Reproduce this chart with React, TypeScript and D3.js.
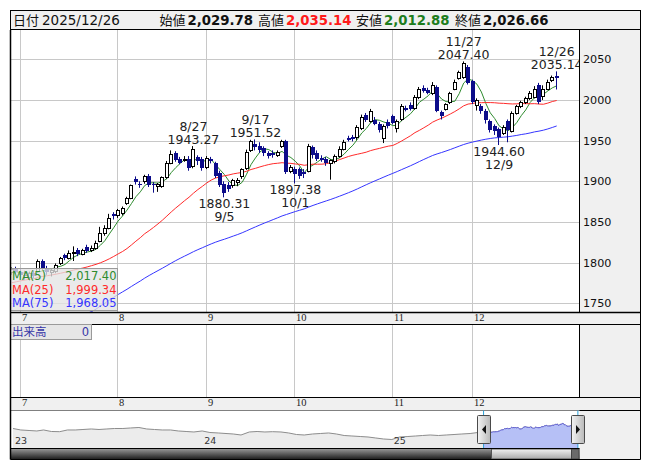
import React from "react";
import * as d3 from "d3";

// ---------- DATA ----------
const tradingDays: [string, number[]][] = [
  ["2025-06", [27, 30]],
  ["2025-07", [1, 2, 3, 4, 7, 8, 9, 10, 11, 14, 15, 16, 17, 18, 22, 23, 24, 25, 28, 29, 30, 31]],
  ["2025-08", [1, 4, 5, 6, 7, 8, 12, 13, 14, 15, 18, 19, 20, 21, 22, 25, 26, 27, 28, 29]],
  ["2025-09", [1, 2, 3, 4, 5, 8, 9, 10, 11, 12, 16, 17, 18, 19, 22, 24, 25, 26, 29, 30]],
  ["2025-10", [1, 2, 3, 6, 7, 8, 9, 10, 14, 15, 16, 17, 20, 21, 22, 23, 24, 27, 28, 29, 30, 31]],
  ["2025-11", [4, 5, 6, 7, 10, 11, 12, 13, 14, 17, 18, 19, 20, 21, 25, 26, 27, 28]],
  ["2025-12", [1, 2, 3, 4, 5, 8, 9, 10, 11, 12, 15, 16, 17, 18, 19, 22, 23, 24, 25, 26]],
];

const opens = [
  1788, 1792,
  1789, 1785, 1782, 1787, 1790, 1802, 1793, 1789, 1790, 1799, 1809, 1806, 1812, 1816, 1811, 1819, 1815, 1818, 1827, 1836, 1843, 1860,
  1858, 1861, 1873, 1880, 1903, 1897, 1900, 1907, 1897, 1894, 1894, 1905, 1923, 1935, 1927, 1926, 1928, 1919, 1930, 1927,
  1917, 1928, 1922, 1910, 1897, 1895, 1895, 1899, 1906, 1916, 1938, 1946, 1944, 1941, 1935, 1935, 1932, 1944, 1949, 1913,
  1915, 1915, 1912, 1913, 1942, 1935, 1929, 1927, 1923, 1925, 1931, 1940, 1953, 1954, 1954, 1965, 1982, 1974, 1975, 1971, 1953, 1973,
  1980, 1965, 1976, 1990, 1994, 1990, 2004, 2015, 2012, 2008, 2016, 1985, 1989, 1997, 2014, 2027, 2028, 2040,
  2023, 1994, 1993, 1987, 1974, 1968, 1964, 1960, 1974, 1962, 1984, 1992, 1997, 2002, 2004, 2018, 2005, 2014, 2024, 2029.78,
];
const highs = [
  1794, 1795,
  1792, 1790, 1789, 1790, 1804, 1804, 1796, 1793, 1799, 1807, 1811, 1815, 1820, 1818, 1817, 1822, 1821, 1827, 1844, 1846, 1860, 1862,
  1866, 1869, 1881, 1896, 1906, 1900, 1908, 1909, 1899, 1898, 1906, 1925, 1938, 1937, 1930, 1931, 1931, 1943.27, 1932, 1930,
  1931, 1930, 1924, 1913, 1900, 1899, 1903, 1904, 1916, 1939, 1951, 1951.52, 1948, 1943, 1937, 1938, 1938, 1951, 1951, 1920,
  1918, 1917, 1915, 1946, 1944, 1938, 1932, 1930, 1927, 1933, 1943, 1951, 1956, 1957, 1969, 1982, 1984, 1989, 1979, 1973, 1970, 1976,
  1982, 1976, 1995, 1993, 1997, 2006, 2016, 2018, 2015, 2022, 2018, 1987, 1996, 2010, 2025, 2036, 2047.4, 2043,
  2025, 2002, 1995, 1989, 1976, 1970, 1966, 1969, 1976, 1986, 1994, 1999, 2004, 2011, 2017, 2021, 2018, 2025, 2030, 2035.14,
];
const lows = [
  1785, 1786,
  1781, 1779, 1778, 1781, 1788, 1791, 1785, 1783, 1787, 1797, 1803, 1804, 1802, 1808, 1809, 1812, 1813, 1816, 1825, 1833, 1841, 1853,
  1855, 1858, 1871, 1878, 1896, 1892, 1897, 1893, 1886, 1887, 1892, 1903, 1921, 1924, 1921, 1924, 1913, 1916, 1920, 1913,
  1915, 1922, 1904, 1893, 1880.31, 1887, 1892, 1894, 1903, 1914, 1936, 1938, 1935, 1931, 1928, 1929, 1930, 1941, 1909, 1910,
  1897.38, 1903, 1904, 1911, 1928, 1925, 1924, 1919, 1902, 1922, 1929, 1938, 1949, 1949, 1951, 1963, 1973, 1972, 1969, 1960, 1947, 1965,
  1970, 1960, 1974, 1986, 1987, 1988, 2001, 2009, 2007, 2006, 1985, 1976, 1987, 1995, 2012, 2025, 2026, 2019,
  1995, 1987, 1983, 1971, 1960, 1957, 1944.6, 1957, 1948, 1960, 1982, 1990, 1995, 2000, 2002, 1995, 2000, 2012, 2022, 2012.88,
];
const closes = [
  1792, 1789,
  1785, 1783, 1787, 1784, 1802, 1794, 1789, 1791, 1797, 1806, 1806, 1812, 1813, 1811, 1815, 1814, 1818, 1824, 1836, 1843, 1855, 1857,
  1865, 1867, 1879, 1895, 1899, 1895, 1906, 1895, 1896, 1897, 1905, 1923, 1933, 1926, 1923, 1928, 1916, 1940, 1925, 1916,
  1929, 1925, 1906, 1895, 1886, 1890, 1901, 1902, 1915, 1936, 1949, 1942, 1938, 1935, 1931, 1932, 1936, 1950, 1911, 1917,
  1909, 1907, 1909, 1943, 1932, 1928, 1926, 1922, 1926, 1931, 1940, 1948, 1951, 1952, 1967, 1979, 1975, 1987, 1971, 1963, 1968, 1968,
  1972, 1974, 1992, 1988, 1989, 2004, 2013, 2011, 2009, 2019, 1987, 1980, 1995, 2008, 2022, 2034, 2045, 2021,
  1997, 2000, 1986, 1975, 1963, 1962, 1955, 1967, 1963, 1984, 1992.5, 1997, 2002, 2009, 2014, 1997, 2013, 2022.35, 2028, 2026.66,
];
// closes before 2025-06-27 (used only for the moving averages)
const priorCloses = [
  1755, 1760, 1768, 1772, 1770, 1765, 1762, 1758, 1750, 1745, 1738, 1720, 1715,
  1705, 1700, 1650, 1600, 1545, 1590, 1560, 1600, 1610,
  1625, 1640, 1632, 1645, 1650, 1638, 1652, 1668, 1675, 1682, 1690, 1695,
  1700, 1712, 1722, 1718, 1730, 1738, 1742, 1748, 1752, 1745, 1750, 1756, 1748, 1752, 1760, 1755, 1758, 1762, 1766,
  1760, 1765, 1770, 1768, 1772, 1778, 1775, 1780, 1776, 1782, 1785, 1780, 1778, 1784, 1788, 1786, 1790, 1784, 1787,
];
const maPeriods = [5, 25, 75];
const yTicks = [1750, 1800, 1850, 1900, 1950, 2000, 2050];
const highMarks = ["2025-08-27", "2025-09-17", "2025-11-27", "2025-12-26"];
const lowMarks = ["2025-09-05", "2025-10-01", "2025-12-09"];
// navigator: half-monthly values 2023-01 .. 2025-06
const navValues = [
  1902, 1862, 1848, 1835, 1862, 1821, 1816, 1862, 1862, 1875, 1889, 1875, 1889, 1902, 1902, 1916, 1929, 1889, 1875, 1862, 1862, 1835, 1821, 1808,
  1835, 1794, 1781, 1767, 1754, 1727, 1808, 1821, 1808, 1816, 1808, 1781, 1740, 1727, 1754, 1767, 1781, 1754, 1713, 1700, 1686, 1673, 1646, 1619,
  1605, 1673, 1686, 1700, 1713, 1727, 1713, 1727, 1740, 1754, 1767, 1794,
];
const navYears = ["23", "24", "25"];

// ---------- LAYOUT ----------
const W = 653, H = 470;
const FL = 10.5, FR = 640.5, PR = 579.5;
const mainTop = 30, mainBot = 312.5, ax1Bot = 324.5, volBot = 397.5, ax2Bot = 410.5, navBot = 448.5, frameBot = 459.5;
const SANS = "'DejaVu Sans', 'Noto Sans CJK JP', sans-serif";
const CJK = "'Noto Sans CJK JP', sans-serif";
const SERIF = "'Liberation Serif', serif";
const UP = "#000000", DOWN = "#0c0c8a";
const maColors = ["#2e8b2e", "#ff2a2a", "#3535ff"];

export default function App() {
  const dates = tradingDays.flatMap(([ym, days]) =>
    days.map((d) => new Date(`${ym}-${String(d).padStart(2, "0")}T00:00:00`))
  );
  const n = dates.length;
  const key = (d: Date) => d3.timeFormat("%Y-%m-%d")(d);

  const x = d3.scaleLinear().domain([2, n - 1]).range([20.7, 556.7]);
  const y = d3.scaleLinear().domain([1750, 2050]).range([303.3, 59.3]);

  const all = [...priorCloses, ...closes];
  const off = priorCloses.length;
  const mas = maPeriods.map((p) =>
    closes.map((_, j) => {
      const s = off + j - p + 1;
      return s < 0 ? null : (d3.mean(all.slice(s, off + j + 1)) as number);
    })
  );
  const line = d3
    .line<number | null>()
    .defined((v) => v != null)
    .x((_, j) => x(j))
    .y((v) => y(v as number));

  const monthStarts = dates
    .map((d, j) => (j > 0 && d.getMonth() !== dates[j - 1].getMonth() ? j : -1))
    .filter((j) => j >= 0);

  const fmt = d3.format(",.2f");
  const last = n - 1;

  // navigator
  const navDates = navValues.map((_, k) => new Date(2023 + Math.floor(k / 24), Math.floor((k % 24) / 2), k % 2 ? 16 : 1));
  const navSeries = [
    ...navValues.map((v, k) => ({ d: navDates[k], v })),
    ...closes.map((v, j) => ({ d: dates[j], v })),
  ];
  const nx = d3.scaleTime().domain([new Date(2023, 0, 1), new Date(2026, 0, 1)]).range([13, 581]);
  const ny = d3.scaleLinear().domain([1600, 2050]).range([439.7, 423]);
  const navLine = d3.line<{ d: Date; v: number }>().x((p) => nx(p.d)).y((p) => ny(p.v));
  const navArea = d3
    .area<{ d: Date; v: number }>()
    .x((p) => nx(p.d))
    .y0(navBot)
    .y1((p) => ny(p.v));
  const selX0 = nx(dates[0]);
  const selX1 = nx(dates[last]);

  const marks = [
    ...highMarks.map((k) => ({ j: dates.findIndex((d) => key(d) === k), type: "high" })),
    ...lowMarks.map((k) => ({ j: dates.findIndex((d) => key(d) === k), type: "low" })),
  ];

  const header = [
    { label: "始値", v: opens[last], c: "#111", lx: 159.5, vx: 187.5 },
    { label: "高値", v: highs[last], c: "#ff1a1a", lx: 258, vx: 286 },
    { label: "安値", v: lows[last], c: "#1d7d1d", lx: 356, vx: 384 },
    { label: "終値", v: closes[last], c: "#111", lx: 455, vx: 483 },
  ];

  return (
    <svg
      width={W}
      height={H}
      style={{ position: "absolute", left: 0, top: 0, display: "block", background: "#fff" }}
      fontFamily={SANS}
    >
      <defs>
        <clipPath id="plot">
          <rect x={FL + 0.5} y={mainTop} width={PR - FL - 0.5} height={mainBot - mainTop} />
        </clipPath>
        <clipPath id="navClip">
          <rect x={FL + 0.5} y={ax2Bot} width={PR - FL} height={navBot - ax2Bot} />
        </clipPath>
        <clipPath id="selClip">
          <rect x={selX0} y={ax2Bot} width={selX1 - selX0} height={navBot - ax2Bot} />
        </clipPath>
        <linearGradient id="handleG" x1="0" y1="0" x2="1" y2="0">
          <stop offset="0" stopColor="#f4f4f4" />
          <stop offset="1" stopColor="#b8b8b8" />
        </linearGradient>
        <linearGradient id="trackG" x1="0" y1="0" x2="0" y2="1">
          <stop offset="0" stopColor="#9a9a9a" />
          <stop offset="0.5" stopColor="#5a5a5a" />
          <stop offset="1" stopColor="#1a1a1a" />
        </linearGradient>
        <linearGradient id="thumbG" x1="0" y1="0" x2="0" y2="1">
          <stop offset="0" stopColor="#f2f2f2" />
          <stop offset="1" stopColor="#a8a8a8" />
        </linearGradient>
      </defs>

      {/* header */}
      <rect x={FL} y={10.5} width={FR - FL} height={19} fill="#f0f0f0" stroke="#000" />
      <text x={13} y={25} fontSize={13} fontFamily={CJK} fill="#111">日付</text>
      <text x={42} y={25} fontSize={13.5} fill="#111">{key(dates[last]).replace(/-/g, "/")}</text>
      {header.map((h) => (
        <g key={h.label}>
          <text x={h.lx} y={25} fontSize={13} fontFamily={CJK} fill="#111">{h.label}</text>
          <text x={h.vx} y={25} fontSize={13.3} fontWeight="bold" fill={h.c}>{fmt(h.v)}</text>
        </g>
      ))}

      {/* right gray column */}
      <rect x={PR} y={mainTop} width={FR - PR} height={frameBot - mainTop} fill="#f0f0f0" />

      {/* main grid */}
      {yTicks.map((t) => (
        <g key={t}>
          <line x1={FL} x2={PR} y1={Math.round(y(t)) + 0.5} y2={Math.round(y(t)) + 0.5} stroke="#c8c8c8" />
          <text x={583} y={y(t) + 4} fontSize={11.2} fill="#111">{t}</text>
        </g>
      ))}
      {monthStarts.map((j) => (
        <g key={j}>
          <line x1={Math.round(x(j)) - 0.5} x2={Math.round(x(j)) - 0.5} y1={mainTop} y2={mainBot} stroke="#c8c8c8" />
          <line x1={Math.round(x(j)) - 0.5} x2={Math.round(x(j)) - 0.5} y1={ax1Bot} y2={volBot} stroke="#c8c8c8" />
        </g>
      ))}

      <g clipPath="url(#plot)">
        {/* moving averages */}
        {mas.map((m, i) => (
          <path key={i} d={line(m) || ""} fill="none" stroke={maColors[i]} strokeWidth={1} />
        ))}
        {/* candles */}
        {closes.map((c, j) => {
          const o = opens[j];
          const up = c >= o;
          const cx = Math.round(x(j));
          const top = Math.round(y(Math.max(o, c)));
          const bot = Math.round(y(Math.min(o, c)));
          const col = up ? UP : DOWN;
          return (
            <g key={j}>
              <line x1={cx - 0.5} x2={cx - 0.5} y1={y(highs[j])} y2={y(lows[j])} stroke={col} />
              {up ? (
                <rect x={cx - 1.5} y={top + 0.5} width={3} height={Math.max(bot - top, 1)} fill="#fff" stroke={UP} />
              ) : (
                <rect x={cx - 2} y={top} width={4} height={Math.max(bot - top, 1)} fill={DOWN} />
              )}
            </g>
          );
        })}
        {/* high / low annotations */}
        {marks.map(({ j, type }) => {
          const d = dates[j];
          const lbl = `${d.getMonth() + 1}/${d.getDate()}`;
          const cx = x(j);
          if (type === "high") {
            const hy = y(highs[j]);
            return (
              <g key={"h" + j} fontSize={12.5} fill="#222" textAnchor="middle">
                <text x={cx} y={hy - 15}>{lbl}</text>
                <text x={cx} y={hy - 2.5}>{highs[j].toFixed(2)}</text>
              </g>
            );
          }
          const ly = y(lows[j]);
          return (
            <g key={"l" + j} fontSize={12.5} fill="#222" textAnchor="middle">
              <text x={cx} y={ly + 11}>{lows[j].toFixed(2)}</text>
              <text x={cx} y={ly + 23.5}>{lbl}</text>
            </g>
          );
        })}
      </g>

      {/* MA legend */}
      <rect x={FL} y={268.5} width={107} height={42} fill="rgba(228,228,228,0.78)" stroke="#9a9a9a" />
      {maPeriods.map((p, i) => (
        <g key={p} fontSize={11.5} fill={maColors[i]}>
          <text x={12} y={280 + i * 13.5}>{`MA(${p})`}</text>
          <text x={116.5} y={280 + i * 13.5} textAnchor="end">{fmt(mas[i][last] as number)}</text>
        </g>
      ))}

      {/* upper x axis row */}
      <rect x={FL} y={mainBot} width={FR - FL} height={ax1Bot - mainBot} fill="#f0f0f0" />
      <line x1={FL} x2={FR} y1={mainBot} y2={mainBot} stroke="#000" strokeWidth={1.5} />
      <line x1={FL} x2={FR} y1={ax1Bot} y2={ax1Bot} stroke="#000" />
      {monthStarts.map((j) => (
        <text key={j} x={Math.round(x(j)) + 1} y={320.5} fontSize={10.5} fontFamily={SERIF} fill="#222">
          {dates[j].getMonth() + 1}
        </text>
      ))}

      {/* volume panel */}
      <rect x={FL} y={ax1Bot} width={81} height={15} fill="#e6e6e6" stroke="#9a9a9a" />
      <text x={12} y={336} fontSize={11.5} fontFamily={CJK} fill="#3636a8">出来高</text>
      <text x={89} y={336} fontSize={11.5} textAnchor="end" fill="#3636a8">0</text>

      {/* lower x axis row */}
      <rect x={FL} y={volBot} width={FR - FL} height={ax2Bot - volBot} fill="#f0f0f0" />
      <line x1={FL} x2={FR} y1={volBot} y2={volBot} stroke="#000" />
      <line x1={FL} x2={FR} y1={ax2Bot} y2={ax2Bot} stroke="#000" />
      {monthStarts.map((j) => (
        <text key={j} x={Math.round(x(j)) + 1} y={406} fontSize={10.5} fontFamily={SERIF} fill="#222">
          {dates[j].getMonth() + 1}
        </text>
      ))}

      {/* navigator */}
      <rect x={FL} y={ax2Bot} width={PR - FL} height={navBot - ax2Bot} fill="#fff" />
      <g clipPath="url(#navClip)">
        <path d={navArea(navSeries) || ""} fill="#ececec" />
        <path d={navLine(navSeries) || ""} fill="none" stroke="#8c8c8c" strokeWidth={1} />
        <g clipPath="url(#selClip)">
          <path d={navArea(navSeries) || ""} fill="#b6c0f6" />
          <path d={navLine(navSeries) || ""} fill="none" stroke="#6060d8" strokeWidth={1} />
        </g>
      </g>
      {navYears.map((yr, i) => (
        <text key={yr} x={nx(new Date(2023 + i, 0, 1)) + 2} y={444} fontSize={9.5} fill="#333">{yr}</text>
      ))}
      <line x1={selX0} x2={selX0} y1={ax2Bot} y2={navBot} stroke="#2aa0d8" />
      <line x1={selX1} x2={selX1} y1={ax2Bot} y2={navBot} stroke="#2aa0d8" />
      {[selX0, selX1].map((hx, i) => (
        <g key={i}>
          <rect x={Math.round(hx) - 6.5} y={415.5} width={13} height={28} fill="url(#handleG)" stroke="#4a4a4a" rx={1} />
          <path
            d={i === 0
              ? `M${Math.round(hx) + 2},${425} L${Math.round(hx) - 2},${429.5} L${Math.round(hx) + 2},${434} Z`
              : `M${Math.round(hx) - 2},${425} L${Math.round(hx) + 2},${429.5} L${Math.round(hx) - 2},${434} Z`}
            fill="#111"
          />
        </g>
      ))}

      {/* scrollbar */}
      <rect x={FL} y={navBot} width={PR - FL} height={frameBot - navBot} fill="url(#trackG)" />
      <rect x={Math.round(selX0) + 7.5} y={navBot + 0.5} width={Math.round(selX1) - Math.round(selX0) - 14} height={frameBot - navBot - 1} fill="url(#thumbG)" stroke="#555" />
      <rect x={Math.round(selX1) - 6.5} y={navBot + 0.5} width={PR - Math.round(selX1) + 6} height={frameBot - navBot - 1} fill="#6a6a6a" stroke="#444" />
      <line x1={FL} x2={PR} y1={navBot} y2={navBot} stroke="#000" />

      {/* frame lines */}
      <line x1={FL} x2={FL} y1={mainTop} y2={frameBot} stroke="#000" strokeWidth={1.5} />
      <line x1={PR} x2={PR} y1={mainTop} y2={mainBot} stroke="#000" />
      <line x1={PR} x2={PR} y1={ax1Bot} y2={volBot} stroke="#000" />
      <line x1={FR} x2={FR} y1={mainTop} y2={frameBot} stroke="#000" />
      <line x1={FL} x2={FR} y1={frameBot} y2={frameBot} stroke="#000" />
    </svg>
  );
}
